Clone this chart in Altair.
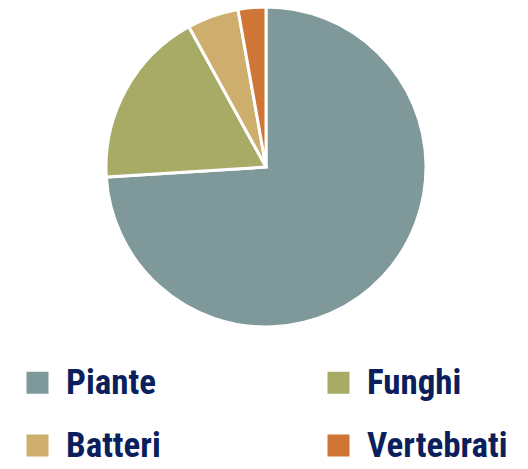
import altair as alt
import pandas as pd

categories = ["Piante", "Funghi", "Batteri", "Vertebrati"]
values = [74, 18, 5.2, 2.8]
colors = ["#7f999b", "#a8ab66", "#cdae6c", "#cf7535"]

df = pd.DataFrame({"cat": categories, "val": values, "order": list(range(len(categories)))})

chart = alt.Chart(df).mark_arc(outerRadius=160, stroke="white", strokeWidth=3).encode(
    theta=alt.Theta("val:Q", stack=True),
    order=alt.Order("order:Q"),
    x=alt.value(258),
    y=alt.value(159),
    color=alt.Color(
        "cat:N",
        sort=categories,
        scale=alt.Scale(domain=categories, range=colors),
        legend=alt.Legend(
            title=None,
            orient="none",
            direction="horizontal",
            legendX=12,
            legendY=357,
            columns=2,
            symbolType="square",
            symbolSize=484,
            symbolStrokeWidth=0,
            symbolOpacity=1,
            labelFont="Roboto Condensed, DejaVu Sans Condensed",
            labelFontWeight="bold",
            labelFontSize=35,
            labelColor="#0b1f5c",
            labelOffset=11,
            columnPadding=160,
            rowPadding=27,
            labelLimit=300,
        ),
    ),
).properties(
    width=512,
    height=453,
    autosize=alt.AutoSizeParams(type="none"),
    padding=0,
).configure_view(stroke=None)

chart.save("out.html", embed_options={"renderer": "svg", "actions": False})
